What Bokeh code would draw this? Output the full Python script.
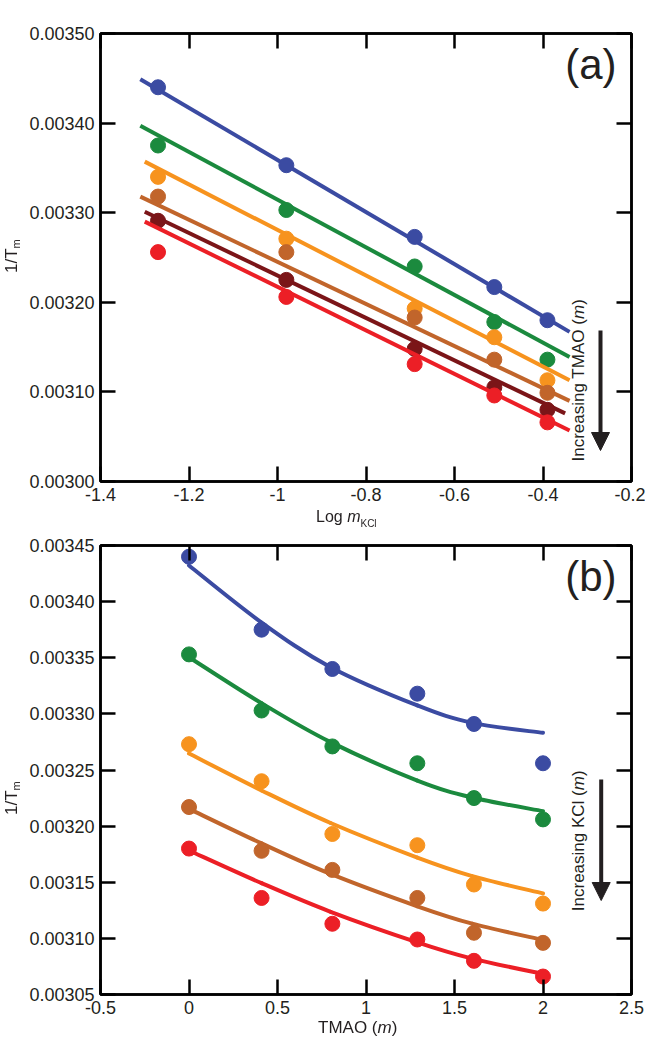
import numpy as np
from bokeh.plotting import figure
from bokeh.layouts import column
from bokeh.models import (Label, Arrow, NormalHead, LinearAxis, FixedTicker, Range1d, Div,
                          Spacer)
from bokeh.embed import file_html
from bokeh.resources import INLINE

# ---------------- data ----------------
log_m_kcl = [-1.27, -0.98, -0.69, -0.51, -0.39]          # panel (a) x
tmao_m = [0.0, 0.41, 0.81, 1.29, 1.61, 2.0]              # panel (b) x

# 1/Tm, one list per TMAO level (columns follow log_m_kcl)
inv_tm_tmao_0 = [0.003440, 0.003353, 0.003273, 0.003217, 0.003180]
inv_tm_tmao_1 = [0.003375, 0.003303, 0.003240, 0.003178, 0.003136]
inv_tm_tmao_2 = [0.003340, 0.003271, 0.003193, 0.003161, 0.003113]
inv_tm_tmao_3 = [0.003318, 0.003256, 0.003183, 0.003136, 0.003099]
inv_tm_tmao_4 = [0.003291, 0.003225, 0.003148, 0.003105, 0.003080]
inv_tm_tmao_5 = [0.003256, 0.003206, 0.003131, 0.003096, 0.003066]
inv_tm = [inv_tm_tmao_0, inv_tm_tmao_1, inv_tm_tmao_2,
          inv_tm_tmao_3, inv_tm_tmao_4, inv_tm_tmao_5]

# panel (a) linear fits (end points)
fit_a_x_start = [-1.31, -1.31, -1.30, -1.31, -1.30, -1.30]
fit_a_x_end = [-0.34, -0.34, -0.34, -0.34, -0.35, -0.34]
fit_a_y_start = [0.003449, 0.003397, 0.003357, 0.003318, 0.003301, 0.003290]
fit_a_y_end = [0.003167, 0.003139, 0.003113, 0.003090, 0.003076, 0.003057]

# panel (b) fitted curves, one per KCl level
curve_b_x = [0.0, 0.41, 0.8, 1.29, 1.6, 2.0]
curve_b_kcl_0 = [0.0034322, 0.0033814, 0.0033416, 0.0033075, 0.0032920, 0.0032831]
curve_b_kcl_1 = [0.0033505, 0.0033095, 0.0032748, 0.0032406, 0.0032255, 0.0032133]
curve_b_kcl_2 = [0.0032647, 0.0032318, 0.0032028, 0.0031720, 0.0031555, 0.0031400]
curve_b_kcl_3 = [0.0032154, 0.0031846, 0.0031574, 0.0031286, 0.0031131, 0.0030986]
curve_b_kcl_4 = [0.0031783, 0.0031492, 0.0031237, 0.0030965, 0.0030820, 0.0030683]
curves_b = [curve_b_kcl_0, curve_b_kcl_1, curve_b_kcl_2, curve_b_kcl_3, curve_b_kcl_4]

# ticks
xa_ticks = [-1.4, -1.2, -1.0, -0.8, -0.6, -0.4, -0.2]
xa_labels = ["-1.4", "-1.2", "-1", "-0.8", "-0.6", "-0.4", "-0.2"]
ya_ticks = [0.0030, 0.0031, 0.0032, 0.0033, 0.0034, 0.0035]
ya_labels = ["0.00300", "0.00310", "0.00320", "0.00330", "0.00340", "0.00350"]
xb_ticks = [-0.5, 0.0, 0.5, 1.0, 1.5, 2.0, 2.5]
xb_labels = ["-0.5", "0", "0.5", "1", "1.5", "2", "2.5"]
yb_ticks = [0.00305, 0.00310, 0.00315, 0.00320, 0.00325, 0.00330, 0.00335, 0.00340, 0.00345]
yb_labels = ["0.00305", "0.00310", "0.00315", "0.00320", "0.00325",
             "0.00330", "0.00335", "0.00340", "0.00345"]

colors_a = ["#3b4ba2", "#1b8a3e", "#f7931e", "#c1652b", "#7b1518", "#ec1f26"]
colors_b = ["#3b4ba2", "#1b8a3e", "#f7931e", "#c1652b", "#ec1f26"]

FONT = "Liberation Sans"
INK = "#231f20"

FIG_W = 645          # frame: page x 100 .. 631
BL, BR = 100, 14

HA, TOP_A, BOT_A = 508, 33, 27     # frame a: page y 33 .. 481
GAP = 24
HB, TOP_B, BOT_B = 489, 13, 27     # frame b: page y 545 .. 994
PAGE_TOP_B = HA + GAP              # 532

FRAME_L = 100
FRAME_BOTTOM_A = 481
FRAME_BOTTOM_B = PAGE_TOP_B + HB - BOT_B   # 994


def make_fig(xr, yr, xt, xl, yt, yl, height, bt, bb):
    p = figure(width=FIG_W, height=height, x_range=Range1d(*xr), y_range=Range1d(*yr),
               output_backend="svg", toolbar_location=None,
               x_axis_location=None, y_axis_location=None,
               min_border_left=BL, min_border_right=BR, min_border_top=bt,
               min_border_bottom=bb)
    p.grid.visible = False
    p.outline_line_color = "black"
    p.outline_line_width = 2.5
    for loc in ["below", "left", "above", "right"]:
        ticks = xt if loc in ("below", "above") else yt
        labels = xl if loc in ("below", "above") else yl
        show = loc in ("below", "left")
        ax = LinearAxis(ticker=FixedTicker(ticks=ticks))
        ax.major_label_overrides = {t: (lab if show else "") for t, lab in zip(ticks, labels)}
        ax.minor_tick_line_color = None
        ax.major_tick_in = 15
        ax.major_tick_out = 0
        ax.major_tick_line_width = 2.5
        ax.major_tick_line_color = "black"
        ax.axis_line_width = 2.5
        ax.axis_line_color = "black"
        ax.major_label_text_font = FONT
        ax.major_label_text_font_size = "18px" if show else "1px"
        ax.major_label_text_color = INK
        ax.major_label_standoff = 6 if show else 0
        p.add_layout(ax, loc)
    return p


def to_scr(px, py, fbottom):
    # page pixel -> frame screen units (from frame bottom-left, y up)
    return px - FRAME_L, fbottom - py


def add_text(p, px, py, fb, text, size, angle=0.0, align="left", style="normal"):
    sx, sy = to_scr(px, py, fb)
    p.add_layout(Label(x=sx, y=sy, x_units="screen", y_units="screen", text=text,
                       angle=angle, text_align=align, text_baseline="alphabetic",
                       text_font=FONT, text_font_size=size, text_color=INK,
                       text_font_style=style))


def add_arrow(p, px, py0, py1, fb):
    sx0, sy0 = to_scr(px, py0, fb)
    sx1, sy1 = to_scr(px, py1, fb)
    p.add_layout(Arrow(x_start=sx0, y_start=sy0, x_end=sx1, y_end=sy1,
                       start_units="screen", end_units="screen",
                       line_color=INK, line_width=4,
                       end=NormalHead(size=18, fill_color=INK, line_color=INK, line_width=1)))


def smooth_curve(p, xs, ys, color):
    # draw a smooth (Catmull-Rom) curve through the read points using bezier segments
    x = np.asarray(xs, float)
    y = np.asarray(ys, float)
    xp = np.concatenate([[x[0]], x, [x[-1]]])
    yp = np.concatenate([[y[0]], y, [y[-1]]])
    n = len(x) - 1
    x0, y0, x1, y1 = x[:-1], y[:-1], x[1:], y[1:]
    cx0 = x0 + (xp[2:n + 2] - xp[0:n]) / 6.0
    cy0 = y0 + (yp[2:n + 2] - yp[0:n]) / 6.0
    cx1 = x1 - (xp[3:n + 3] - xp[1:n + 1]) / 6.0
    cy1 = y1 - (yp[3:n + 3] - yp[1:n + 1]) / 6.0
    p.bezier(x0=x0, y0=y0, x1=x1, y1=y1, cx0=cx0, cy0=cy0, cx1=cx1, cy1=cy1,
             line_color=color, line_width=4, line_cap="round")


# ---------------- panel (a) ----------------
pa = make_fig((-1.4, -0.2), (0.0030, 0.0035), xa_ticks, xa_labels, ya_ticks, ya_labels,
              HA, TOP_A, BOT_A)
for i, col in enumerate(colors_a):
    pa.line([fit_a_x_start[i], fit_a_x_end[i]], [fit_a_y_start[i], fit_a_y_end[i]],
            line_color=col, line_width=4)
    pa.scatter(log_m_kcl, inv_tm[i], size=15, fill_color=col, line_color=col)

add_text(pa, 616, 64, FRAME_BOTTOM_A, "(a)", "42px", align="right")
add_text(pa, 578, 461, FRAME_BOTTOM_A, "Increasing TMAO (", "17px", angle=np.pi / 2)
add_text(pa, 578, 318.4, FRAME_BOTTOM_A, "m", "17px", angle=np.pi / 2, style="italic")
add_text(pa, 578, 304.2, FRAME_BOTTOM_A, ")", "17px", angle=np.pi / 2)
add_arrow(pa, 600, 330, 450, FRAME_BOTTOM_A)

# ---------------- panel (b) ----------------
pb = make_fig((-0.5, 2.5), (0.00305, 0.00345), xb_ticks, xb_labels, yb_ticks, yb_labels,
              HB, TOP_B, BOT_B)
for k, col in enumerate(colors_b):
    smooth_curve(pb, curve_b_x, curves_b[k], col)
    pb.scatter(tmao_m, [r[k] for r in inv_tm], size=15, fill_color=col, line_color=col)

add_text(pb, 616, 576, FRAME_BOTTOM_B, "(b)", "42px", align="right")
add_text(pb, 578, 910.7, FRAME_BOTTOM_B, "Increasing KCl (", "17px", angle=np.pi / 2)
add_text(pb, 578, 789.8, FRAME_BOTTOM_B, "m", "17px", angle=np.pi / 2, style="italic")
add_text(pb, 578, 775.6, FRAME_BOTTOM_B, ")", "17px", angle=np.pi / 2)
add_arrow(pb, 600.7, 779, 900, FRAME_BOTTOM_B)

# ---------------- axis titles (HTML text, fixed page positions) ----------------
def htext(left, top, inner, size=16, extra=""):
    return (f'<div style="position:fixed;z-index:10;left:{left}px;top:{top}px;'
            f'white-space:nowrap;font-family:\'{FONT}\';font-size:{size}px;'
            f'line-height:{size}px;color:{INK};{extra}">{inner}</div>')


ROT = "transform:rotate(-90deg);transform-origin:0 0;"
ylab_inner = '1/T<span style="font-size:11px;position:relative;top:3px;">m</span>'
titles_html = (
    htext(2.6, 273, ylab_inner, 17, ROT)
    + htext(2.6, 815, ylab_inner, 17, ROT)
    + htext(316, 522 - 13.5,
            'Log <i>m</i><span style="font-size:10px;position:relative;top:5px;">KCl</span>')
    + htext(318, 1033 - 14.4, 'TMAO (<i>m</i>)', 17)
)
titles = Div(text=titles_html, width=FIG_W, height=2, margin=0)

layout = column(pa, Spacer(width=FIG_W, height=GAP, margin=0), pb, titles)
open("out.html", "w").write(file_html(layout, INLINE))
